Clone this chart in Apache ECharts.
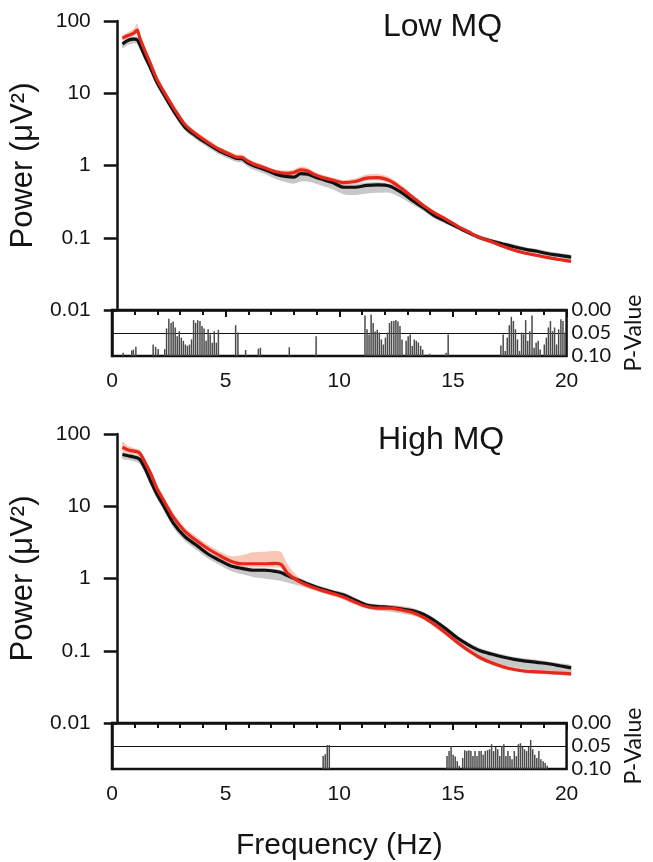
<!DOCTYPE html>
<html>
<head>
<meta charset="utf-8">
<script src="https://cdn.jsdelivr.net/npm/echarts@6/dist/echarts.min.js"></script>
<style>
html,body{margin:0;padding:0;background:#fff;}
#chart{width:653px;height:862px;}
</style>
</head>
<body>
<div id="chart"></div>
<script>
// ---------- DATA ----------
var powerTickLabels = ['0.01', '0.1', '1', '10', '100'];
var pTickLabels = ['0.00', '0.05', '0.10'];
var panelTitles = ['Low MQ', 'High MQ'];

// Low MQ panel spectra
var lowFreq = [0.25,0.5,0.75,0.9,1.0,1.25,1.5,1.75,2,2.5,3,3.5,4,4.5,5,5.3,5.5,5.75,6,6.5,7,7.5,7.8,8.1,8.4,8.7,9,9.5,10,10.5,11,11.5,12,12.5,13,13.5,14,14.5,15,15.5,16,16.5,17,17.5,18,18.5,19,19.5,20];
var lowRed = [58,63,68,75,60,38,25,16,11.5,6.3,3.7,2.7,2.1,1.68,1.42,1.3,1.3,1.16,1.06,0.93,0.82,0.78,0.8,0.87,0.84,0.75,0.69,0.63,0.58,0.6,0.67,0.68,0.62,0.49,0.37,0.28,0.22,0.18,0.145,0.12,0.1,0.088,0.076,0.067,0.061,0.057,0.053,0.05,0.047];
var lowRedHi = [63,70,78,92,68,42,28,17.5,12.5,6.9,4.0,2.95,2.3,1.82,1.55,1.42,1.42,1.26,1.15,1.0,0.88,0.85,0.88,0.97,0.93,0.82,0.75,0.68,0.63,0.66,0.75,0.76,0.69,0.54,0.4,0.3,0.235,0.19,0.152,0.126,0.105,0.092,0.079,0.07,0.064,0.059,0.055,0.052,0.049];
var lowRedLo = [54,58,62,66,55,35,23,14.8,10.6,5.8,3.4,2.5,1.95,1.56,1.32,1.21,1.21,1.08,0.98,0.86,0.76,0.72,0.74,0.8,0.77,0.69,0.64,0.58,0.54,0.55,0.61,0.62,0.57,0.45,0.34,0.26,0.205,0.168,0.136,0.113,0.095,0.084,0.073,0.064,0.058,0.055,0.051,0.048,0.045];
var lowBlack = [48,54,56,55,48,32,22,14.5,10.5,5.7,3.4,2.55,2.0,1.6,1.36,1.25,1.24,1.1,1.0,0.88,0.76,0.7,0.69,0.77,0.76,0.7,0.65,0.58,0.5,0.5,0.53,0.54,0.52,0.43,0.33,0.26,0.2,0.168,0.14,0.117,0.1,0.09,0.082,0.075,0.069,0.065,0.06,0.057,0.054];
var lowBlackHi = [52,58,61,60,52,35,24,15.7,11.3,6.2,3.7,2.75,2.15,1.73,1.47,1.35,1.34,1.19,1.08,0.95,0.82,0.76,0.75,0.83,0.82,0.76,0.7,0.63,0.55,0.55,0.58,0.59,0.56,0.47,0.36,0.28,0.216,0.181,0.151,0.126,0.108,0.097,0.088,0.081,0.074,0.07,0.065,0.061,0.058];
var lowBlackLo = [42,47,49,48,42,28,19,12.8,9.3,5.1,3.05,2.28,1.79,1.43,1.21,1.11,1.1,0.97,0.88,0.77,0.65,0.58,0.56,0.6,0.6,0.57,0.53,0.47,0.4,0.39,0.41,0.42,0.42,0.36,0.29,0.235,0.183,0.155,0.13,0.109,0.093,0.084,0.077,0.07,0.065,0.061,0.056,0.053,0.05];

// High MQ panel spectra
var highFreq = [0.25,0.5,0.75,1,1.25,1.5,1.75,2,2.5,3,3.5,4,4.5,5,5.5,6,6.5,7,7.25,7.5,8,8.5,9,9.5,10,10.5,11,11.5,12,12.5,13,13.5,14,14.5,15,15.5,16,16.5,17,17.5,18,18.5,19,19.5,20];
var highRed = [66,60,58,55,40,28,18,13,7,4.5,3.35,2.6,2.1,1.75,1.6,1.6,1.6,1.62,1.55,1.2,0.92,0.78,0.69,0.62,0.55,0.47,0.41,0.39,0.39,0.37,0.34,0.29,0.23,0.175,0.13,0.1,0.08,0.068,0.06,0.055,0.052,0.051,0.05,0.049,0.048];
var highRedHi = [78,68,64,60,45,32,21,15,8,5.1,3.8,2.95,2.4,2.05,2.1,2.3,2.35,2.4,2.3,1.6,1.05,0.86,0.76,0.68,0.6,0.52,0.45,0.43,0.43,0.42,0.39,0.33,0.26,0.195,0.143,0.11,0.087,0.074,0.065,0.059,0.056,0.055,0.054,0.053,0.051];
var highRedLo = [58,54,52,49,36,25,16,11.7,6.3,4.05,3.0,2.35,1.9,1.58,1.45,1.42,1.42,1.42,1.38,1.08,0.84,0.72,0.64,0.57,0.51,0.43,0.38,0.36,0.36,0.34,0.31,0.27,0.21,0.162,0.121,0.093,0.075,0.064,0.056,0.052,0.049,0.048,0.047,0.046,0.045];
var highBlack = [52,50,48,45,33,22,15,11,5.8,3.8,2.9,2.2,1.8,1.5,1.38,1.3,1.3,1.25,1.2,1.1,0.95,0.82,0.72,0.65,0.59,0.5,0.43,0.41,0.4,0.38,0.36,0.32,0.26,0.2,0.15,0.12,0.1,0.09,0.082,0.076,0.072,0.069,0.066,0.062,0.058];
var highBlackHi = [56,54,52,48.5,35.5,23.8,16.2,11.9,6.3,4.1,3.13,2.38,1.94,1.62,1.49,1.4,1.4,1.35,1.3,1.19,1.03,0.89,0.78,0.7,0.64,0.54,0.46,0.44,0.43,0.41,0.39,0.345,0.28,0.216,0.162,0.13,0.108,0.097,0.089,0.082,0.078,0.075,0.071,0.067,0.063];
var highBlackLo = [45,44,42,39,28.5,19,13,9.5,5.0,3.3,2.5,1.9,1.55,1.28,1.15,1.05,1.0,0.95,0.92,0.88,0.8,0.72,0.64,0.58,0.53,0.45,0.39,0.36,0.35,0.33,0.31,0.28,0.225,0.172,0.128,0.1,0.081,0.071,0.064,0.059,0.056,0.054,0.053,0.052,0.05];

// P-values (only bins with p < 0.10)
var lowPFreq = [0.49,0.87,0.94,1.05,1.81,1.92,2.03,2.32,2.40,2.50,2.60,2.69,2.78,2.87,2.96,3.05,3.14,3.23,3.32,3.41,3.50,3.59,3.68,3.77,3.87,3.96,4.05,4.14,4.23,4.32,4.41,4.50,4.59,4.68,5.44,5.54,5.88,6.44,6.53,7.80,8.98,11.13,11.22,11.31,11.40,11.49,11.58,11.67,11.76,11.85,11.94,12.03,12.12,12.21,12.30,12.40,12.49,12.58,12.67,12.76,12.94,13.03,13.12,13.21,13.30,13.39,13.48,13.58,13.67,13.97,14.70,14.79,17.11,17.21,17.30,17.39,17.48,17.57,17.66,17.75,17.84,17.93,18.02,18.11,18.20,18.29,18.38,18.48,18.57,18.66,18.75,18.84,19.02,19.11,19.20,19.29,19.38,19.47,19.56,19.65,19.75,19.84,19.93];
var lowP = [0.093,0.088,0.086,0.080,0.075,0.080,0.085,0.085,0.040,0.019,0.028,0.025,0.038,0.057,0.046,0.060,0.067,0.075,0.078,0.075,0.064,0.022,0.028,0.022,0.024,0.035,0.040,0.067,0.042,0.053,0.071,0.046,0.071,0.043,0.033,0.049,0.087,0.084,0.082,0.081,0.057,0.012,0.042,0.053,0.010,0.028,0.047,0.043,0.049,0.064,0.075,0.060,0.049,0.028,0.024,0.024,0.022,0.025,0.035,0.064,0.067,0.057,0.053,0.078,0.064,0.067,0.071,0.078,0.086,0.095,0.093,0.053,0.077,0.053,0.089,0.060,0.033,0.015,0.024,0.042,0.064,0.089,0.049,0.053,0.022,0.067,0.046,0.012,0.082,0.071,0.067,0.086,0.075,0.060,0.038,0.024,0.046,0.038,0.075,0.042,0.020,0.024,0.049];
var highPFreq = [9.29,9.38,9.47,9.56,14.74,14.83,14.92,15.01,15.10,15.19,15.28,15.43,15.52,15.61,15.70,15.79,15.88,15.97,16.06,16.15,16.24,16.33,16.42,16.52,16.61,16.70,16.79,16.88,16.97,17.06,17.15,17.24,17.33,17.42,17.51,17.60,17.70,17.79,17.88,17.97,18.06,18.15,18.24,18.33,18.42,18.51,18.60,18.69,18.78,18.87,18.97,19.06,19.15];
var highP = [0.072,0.068,0.048,0.048,0.072,0.061,0.050,0.069,0.073,0.083,0.093,0.076,0.059,0.061,0.059,0.061,0.072,0.061,0.072,0.061,0.061,0.069,0.061,0.059,0.057,0.046,0.061,0.052,0.057,0.072,0.050,0.046,0.072,0.061,0.072,0.079,0.061,0.072,0.046,0.044,0.052,0.057,0.061,0.052,0.037,0.057,0.069,0.076,0.061,0.079,0.083,0.087,0.093];

// ---------- CHART ----------
var chart = echarts.init(document.getElementById('chart'), null, {renderer: 'canvas'});
var FONT = "'Liberation Sans', Arial, sans-serif";
var FONT2 = "Lato, 'Open Sans', sans-serif";
var AX = '#111';
var TXT = '#141414';

function pairs(xs, ys) { return xs.map(function (x, i) { return [x, ys[i]]; }); }

function bandSeries(idx, xs, lo, hi, color) {
  return {
    type: 'custom', xAxisIndex: idx, yAxisIndex: idx, silent: true,
    encode: {x: 0, y: [1, 2]},
    data: xs.map(function (x, i) { return [x, lo[i], hi[i]]; }),
    renderItem: function (params, api) {
      if (params.dataIndex !== 0) return null;
      var pts = [];
      for (var i = 0; i < xs.length; i++) pts.push(api.coord([xs[i], hi[i]]));
      for (var j = xs.length - 1; j >= 0; j--) pts.push(api.coord([xs[j], lo[j]]));
      return {type: 'polygon', shape: {points: pts, smooth: 0.3}, style: {fill: color}};
    }
  };
}
function lineSeries(idx, xs, ys, color) {
  return {
    type: 'line', xAxisIndex: idx, yAxisIndex: idx, silent: true,
    data: pairs(xs, ys), showSymbol: false, smooth: 0.3,
    lineStyle: {color: color, width: 3.2}
  };
}
function pSeries(idx, xs, ps) {
  return {
    type: 'custom', xAxisIndex: idx, yAxisIndex: idx, silent: true,
    encode: {x: 0, y: 1},
    data: pairs(xs, ps),
    renderItem: function (params, api) {
      var top = api.coord([api.value(0), api.value(1)]);
      var base = api.coord([api.value(0), 0.1]);
      return {type: 'rect', shape: {x: top[0] - 0.75, y: top[1], width: 1.5, height: base[1] - top[1]},
              style: {fill: '#4a4a4a'}};
    }
  };
}

var panelTop = [21, 434];
var grids = [], xAxes = [], yAxes = [], series = [], titles = [];
[0, 1].forEach(function (k) {
  var t = panelTop[k];
  grids.push({left: 112, top: t, width: 459, height: 289});
  grids.push({left: 112, top: t + 289, width: 459, height: 46, show: true, borderColor: AX, borderWidth: 2.5});
  var gp = k * 2, gq = k * 2 + 1;
  xAxes.push({gridIndex: gp, type: 'value', min: 0, max: 20, show: false});
  xAxes.push({
    gridIndex: gq, type: 'value', min: 0, max: 20, interval: 5,
    axisLine: {show: true, lineStyle: {color: AX, width: 2.5}},
    axisTick: {show: true, inside: false, length: 7, lineStyle: {color: AX, width: 2}},
    minorTick: {show: true, splitNumber: 5, length: 5, lineStyle: {color: AX, width: 2}},
    splitLine: {show: false},
    axisLabel: {fontSize: 21, color: TXT, fontFamily: FONT, margin: 15},
    name: k === 1 ? 'Frequency (Hz)' : '', nameLocation: 'middle', nameGap: 62,
    nameTextStyle: {fontSize: 30, color: TXT, fontFamily: FONT}
  });
  yAxes.push({
    gridIndex: gp, type: 'log', logBase: 10, min: 0.01, max: 100,
    axisLine: {show: true, lineStyle: {color: AX, width: 2.5}},
    axisTick: {show: true, inside: false, length: 13, lineStyle: {color: AX, width: 2.5}},
    splitLine: {show: false}, minorTick: {show: false},
    axisLabel: {fontSize: 21, color: TXT, fontFamily: FONT, margin: 26,
      formatter: function (v) { return powerTickLabels[Math.round(Math.log10(v)) + 2]; }},
    name: 'Power (\u03bcV\u00b2)', nameLocation: 'middle', nameGap: 64, nameRotate: 90,
    nameTextStyle: {fontSize: 31, color: TXT, fontFamily: FONT}
  });
  yAxes.push({
    gridIndex: gq, type: 'value', min: 0, max: 0.1, interval: 0.05, inverse: true, position: 'right',
    axisLine: {show: true, lineStyle: {color: AX, width: 2.5}},
    axisTick: {show: false},
    splitLine: {show: true, lineStyle: {color: AX, width: 1}},
    axisLabel: {fontSize: 20, color: TXT, fontFamily: FONT2, margin: 5,
      formatter: function (v) { return pTickLabels[Math.round(v / 0.05)]; }},
    name: 'P-Value', nameLocation: 'middle', nameGap: 54, nameRotate: 90,
    nameTextStyle: {fontSize: 23, color: TXT, fontFamily: FONT2}
  });
  titles.push({text: panelTitles[k], left: k === 0 ? 383 : 378, top: t - 10, padding: 0,
    textStyle: {fontSize: 32, fontWeight: 'normal', color: TXT, fontFamily: FONT}});
});

var low = [lowFreq, lowRed, lowRedLo, lowRedHi, lowBlack, lowBlackLo, lowBlackHi, lowPFreq, lowP];
var high = [highFreq, highRed, highRedLo, highRedHi, highBlack, highBlackLo, highBlackHi, highPFreq, highP];
[low, high].forEach(function (d, k) {
  var gp = k * 2, gq = k * 2 + 1;
  series.push(bandSeries(gp, d[0], d[5], d[6], 'rgba(170,170,170,0.65)'));
  series.push(bandSeries(gp, d[0], d[2], d[3], 'rgba(246,160,135,0.6)'));
  series.push(lineSeries(gp, d[0], d[4], '#111111'));
  series.push(lineSeries(gp, d[0], d[1], '#e5281c'));
  series.push(pSeries(gq, d[7], d[8]));
});

chart.setOption({
  animation: false,
  backgroundColor: '#fff',
  title: titles,
  grid: grids,
  xAxis: xAxes,
  yAxis: yAxes,
  series: series
});
</script>
</body>
</html>
